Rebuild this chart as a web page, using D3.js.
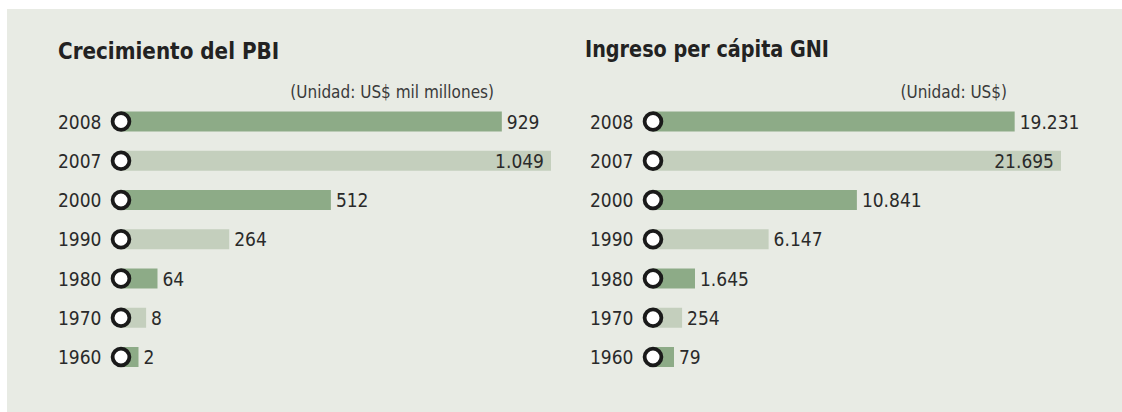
<!DOCTYPE html>
<html><head><meta charset="utf-8">
<script src="https://cdn.jsdelivr.net/npm/d3@7"></script>
<style>
html,body{margin:0;padding:0;background:#fff;}
svg{display:block;}
</style></head>
<body>
<svg id="chart" width="1122" height="412"></svg>
<script>
// ---- data ----
const years = ["2008","2007","2000","1990","1980","1970","1960"];
const pbiValues = [929, 1049, 512, 264, 64, 8, 2];
const pbiLabels = ["929","1.049","512","264","64","8","2"];
const gniValues = [19231, 21695, 10841, 6147, 1645, 254, 79];
const gniLabels = ["19.231","21.695","10.841","6.147","1.645","254","79"];
const titles = ["Crecimiento del PBI", "Ingreso per cápita GNI"];
const units = ["(Unidad: US$ mil millones)", "(Unidad: US$)"];

const FONT = "'Liberation Sans Narrow','DejaVu Sans Condensed','Roboto',sans-serif";
const svg = d3.select("#chart");
svg.append("rect").attr("x",7).attr("y",9).attr("width",1115).attr("height",403).attr("fill","#e8ebe4");

const y = d3.scalePoint().domain(years).range([121.5, 357]);
const barColors = ["#8dab87","#c4cfbd"];

function panel(cfg){
  const g = svg.append("g");
  const max = d3.max(cfg.values);
  const x = d3.scaleLinear().domain([0, max]).range([cfg.x0, cfg.x1]);
  // small values are given a minimum visible stub on a log scale
  const stub = d3.scaleLog().domain(cfg.stubDomain).range(cfg.stubRange).clamp(true);
  const end = v => Math.max(x(v), cfg.x0 + stub(v));

  g.append("text").attr("transform",`translate(${cfg.titleX},${cfg.titleY}) scale(${cfg.titleScale},1)`).text(cfg.title)
    .attr("font-family",FONT).attr("font-weight","bold").attr("font-size",23).attr("fill","#222");
  g.append("text").attr("x",cfg.unitX).attr("y",97.5).attr("text-anchor","end").text(cfg.unit)
    .attr("font-family",FONT).attr("font-size",17).attr("fill","#3a3a3a");

  const rows = g.selectAll("g.row").data(years.map((yr,i)=>({yr, v:cfg.values[i], lab:cfg.labels[i], i})))
    .join("g").attr("class","row");
  rows.append("rect").attr("x",cfg.x0).attr("y",d=>y(d.yr)-10).attr("height",20)
    .attr("width",d=>end(d.v)-cfg.x0).attr("fill",d=>barColors[d.i%2]);
  rows.append("circle").attr("cx",cfg.x0).attr("cy",d=>y(d.yr)).attr("r",8.4)
    .attr("fill","#fff").attr("stroke","#1a1a1a").attr("stroke-width",3.8);
  rows.append("text").attr("x",cfg.x0-19.5).attr("y",d=>y(d.yr)+7).attr("text-anchor","end")
    .text(d=>d.yr).attr("font-family",FONT).attr("font-size",19).attr("fill","#2a2a2a");
  rows.append("text")
    .attr("x",d=> d.v===max ? end(d.v)-7 : end(d.v)+5)
    .attr("text-anchor",d=> d.v===max ? "end" : "start")
    .attr("y",d=>y(d.yr)+7)
    .text(d=>d.lab).attr("font-family",FONT).attr("font-size",19).attr("fill","#2a2a2a");
}

panel({values:pbiValues, labels:pbiLabels, title:titles[0], unit:units[0], titleScale:0.965,
  x0:121, x1:551, stubDomain:[2,64], stubRange:[17.5,36.5], titleX:58, titleY:59, unitX:494});
panel({values:gniValues, labels:gniLabels, title:titles[1], unit:units[1], titleScale:0.93,
  x0:653, x1:1061, stubDomain:[79,1645], stubRange:[21,42], titleX:585, titleY:56.5, unitX:1007});
</script>
</body></html>
